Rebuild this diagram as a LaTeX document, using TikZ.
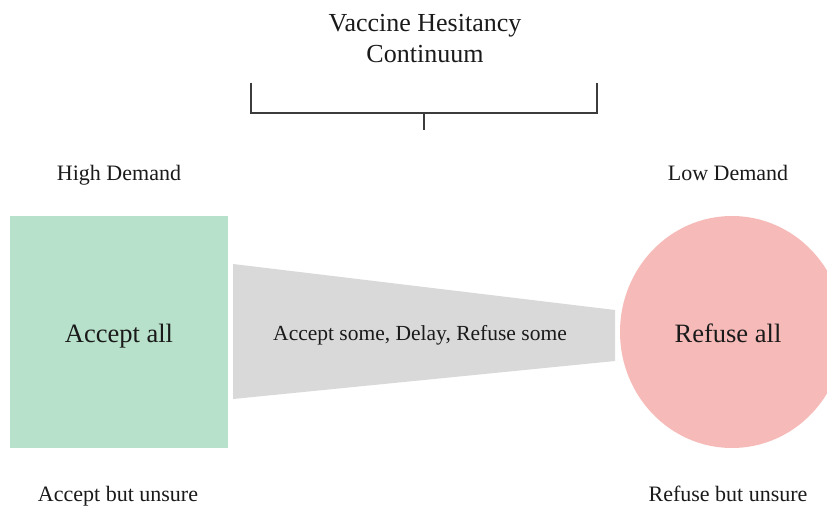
\documentclass[tikz,border=0pt]{standalone}
\usepackage{fontspec}
\setmainfont{Liberation Serif}
\definecolor{boxgreen}{HTML}{B7E1CA}
\definecolor{funnelgray}{HTML}{D9D9D9}
\definecolor{circpink}{HTML}{F6BBB8}
\definecolor{txt}{HTML}{1A1A1A}
\tikzset{
  lbl/.style={text=txt, inner sep=0pt, anchor=base, font=\fontsize{22}{26}\selectfont},
  big/.style={text=txt, inner sep=0pt, anchor=base, font=\fontsize{26.5}{30}\selectfont},
  ttl/.style={text=txt, inner sep=0pt, anchor=base, font=\fontsize{26}{30}\selectfont},
  brk/.style={line width=1.8pt, draw=txt!85}
}
\begin{document}
\begin{tikzpicture}[x=1pt,y=-1pt]
\useasboundingbox (0,0) rectangle (827,508);
\fill[white] (0,0) rectangle (827,508);
\begin{scope}
\clip (0,0) rectangle (827,508);
% title
\node[ttl] (title1) at (425,32) {Vaccine Hesitancy};
\node[ttl] (title2) at (425,63) {Continuum};
% bracket
\coordinate (bl) at (251,83);
\coordinate (br) at (597,83);
\coordinate (bm) at (424,113);
\coordinate (bt) at (424,130);
\draw[brk] (bl) -- (251,113) -- (597,113) -- (br);
\draw[brk] (bm) -- (bt);
% accept all square
\fill[boxgreen] (10,216) rectangle (228,448);
\node[big] (acc) at (119,342) {Accept all};
% funnel
\fill[funnelgray] (233,264) -- (615,310) -- (615,361) -- (233,399) -- cycle;
\node[text=txt, inner sep=0pt, anchor=base, font=\fontsize{21.5}{26}\selectfont] (mid) at (420,340) {Accept some, Delay, Refuse some};
% refuse all circle
\fill[circpink] (732,332) ellipse [x radius=112, y radius=116];
\node[big] (ref) at (728,342) {Refuse all};
% labels
\node[lbl] (high) at (119,180) {High Demand};
\node[lbl] (low) at (728,180) {Low Demand};
\node[lbl] (accu) at (118,501) {Accept but unsure};
\node[lbl] (refu) at (728,501) {Refuse but unsure};
\end{scope}
\end{tikzpicture}
\end{document}
